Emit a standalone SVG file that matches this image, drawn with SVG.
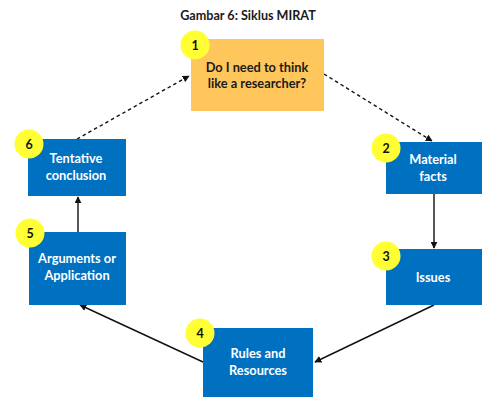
<svg xmlns="http://www.w3.org/2000/svg" width="501" height="413" viewBox="0 0 501 413">
<defs>
<style>
.t{font-family:Lato,"Liberation Sans",sans-serif;font-weight:bold;font-size:12.8px;text-anchor:middle}
.w{fill:#ffffff}
.d{fill:#1a1a1a}
.box{fill:#0070C0}
.num{fill:#FFFF33}
.n{font-family:Lato,"Liberation Sans",sans-serif;font-weight:bold;font-size:12.5px;text-anchor:middle;fill:#111}
.c{stroke:#111;stroke-width:1.4;fill:none}
.dash{stroke-dasharray:3.5,3}
</style>
<marker id="ah" viewBox="0 0 10 10" refX="9" refY="5" markerWidth="7" markerHeight="7" orient="auto" markerUnits="userSpaceOnUse">
<path d="M0,0 L10,5 L0,10 z" fill="#111"/>
</marker>
</defs>
<rect width="501" height="413" fill="#ffffff"/>
<text x="248" y="20" class="t d" style="font-size:12.6px">Gambar 6: Siklus MIRAT</text>
<g id="connectors">
<line class="c dash" x1="77" y1="139" x2="189" y2="76" marker-end="url(#ah)"/>
<line class="c dash" x1="324" y1="74" x2="432" y2="141" marker-end="url(#ah)"/>
<line class="c" x1="434" y1="194" x2="434" y2="248" marker-end="url(#ah)"/>
<line class="c" x1="434" y1="305" x2="315" y2="362" marker-end="url(#ah)"/>
<line class="c" x1="203" y1="362" x2="80" y2="305" marker-end="url(#ah)"/>
<line class="c" x1="78" y1="232" x2="78" y2="197" marker-end="url(#ah)"/>
</g>
<g id="node1">
<rect x="191" y="39" width="133" height="72" fill="#FFC65C"/>
<circle cx="195" cy="45" r="14.5" class="num"/>
<text x="195" y="50" class="n">1</text>
<text x="257" y="72" class="t d">Do I need to think</text>
<text x="257" y="88" class="t d">like a researcher?</text>
</g>
<g id="node2">
<rect x="386" y="142" width="96" height="52" class="box"/>
<circle cx="386" cy="148" r="14.5" class="num"/>
<text x="386" y="153" class="n">2</text>
<text x="433" y="164" class="t w">Material</text>
<text x="433" y="181" class="t w">facts</text>
</g>
<g id="node3">
<rect x="386" y="249" width="96" height="56" class="box"/>
<circle cx="386" cy="256" r="14.5" class="num"/>
<text x="386" y="261" class="n">3</text>
<text x="433" y="282" class="t w">Issues</text>
</g>
<g id="node4">
<rect x="203" y="328" width="110" height="69" class="box"/>
<circle cx="200" cy="333" r="14.5" class="num"/>
<text x="200" y="338" class="n">4</text>
<text x="258" y="358" class="t w">Rules and</text>
<text x="258" y="375" class="t w">Resources</text>
</g>
<g id="node5">
<rect x="29" y="232" width="97" height="73" class="box"/>
<circle cx="30" cy="233" r="14.5" class="num"/>
<text x="30" y="238" class="n">5</text>
<text x="77" y="263" class="t w">Arguments or</text>
<text x="77" y="280" class="t w">Application</text>
</g>
<g id="node6">
<rect x="28" y="139" width="98" height="57" class="box"/>
<circle cx="29" cy="144" r="14.5" class="num"/>
<text x="29" y="149" class="n">6</text>
<text x="76" y="163" class="t w">Tentative</text>
<text x="76" y="180" class="t w">conclusion</text>
</g>
</svg>
